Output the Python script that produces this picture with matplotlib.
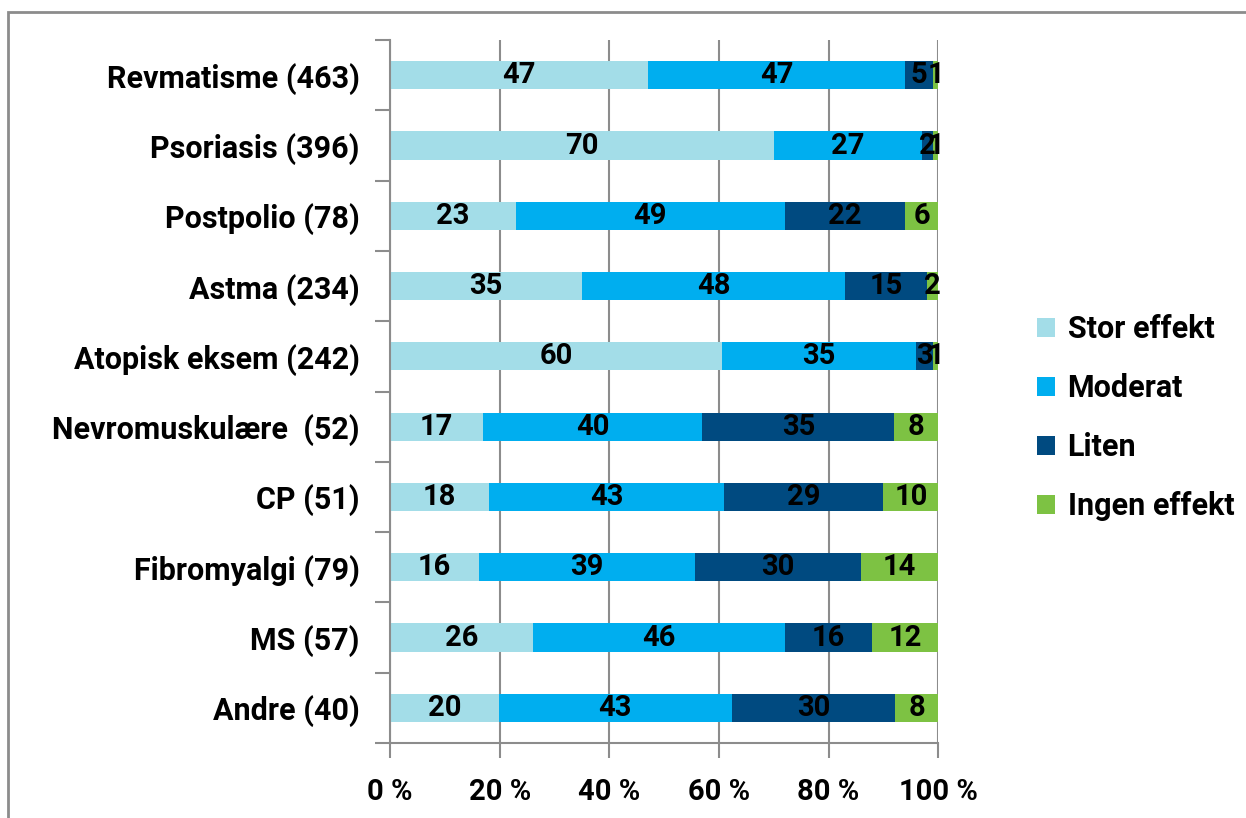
import numpy as np
import matplotlib
matplotlib.use("Agg")
import matplotlib.pyplot as plt
from matplotlib.patches import Rectangle

plt.rcParams['font.family'] = ['Roboto', 'DejaVu Sans']
plt.rcParams['font.weight'] = 'bold'

categories = ["Revmatisme (463)", "Psoriasis (396)", "Postpolio (78)", "Astma (234)",
              "Atopisk eksem (242)", "Nevromuskulære  (52)", "CP (51)", "Fibromyalgi (79)",
              "MS (57)", "Andre (40)"]
series = ["Stor effekt", "Moderat", "Liten", "Ingen effekt"]
stor = [47, 70, 23, 35, 60, 17, 18, 16, 26, 20]
moderat = [47, 27, 49, 48, 35, 40, 43, 39, 46, 43]
liten = [5, 2, 22, 15, 3, 35, 29, 30, 16, 30]
ingen = [1, 1, 6, 2, 1, 8, 10, 14, 12, 8]
colors = ["#A3DDE8", "#00AEEF", "#004A80", "#7DC243"]
xticks = [0, 20, 40, 60, 80, 100]

data = np.array([stor, moderat, liten, ingen], dtype=float)
shares = data / data.sum(axis=0) * 100

fig = plt.figure(figsize=(12.46, 8.18), dpi=100)
ax = fig.add_axes([0.313, 0.0917, 0.44, 0.8593])

# outer frame
fig.patches.append(Rectangle((8 / 1246, -0.1), 1.2, 1.1 - 12 / 818, transform=fig.transFigure,
                             fill=False, edgecolor="#8C8C8C", linewidth=2, zorder=0))

y = np.arange(len(categories))
left = np.zeros(len(categories))
for i, name in enumerate(series):
    ax.barh(y, shares[i], left=left, height=0.4, color=colors[i], label=name, zorder=2)
    for j in range(len(categories)):
        ax.text(left[j] + shares[i][j] / 2, y[j], "%d" % data[i][j], ha="center", va="center",
                fontsize=21, fontweight="bold", color="black", zorder=3)
    left += shares[i]

ax.set_ylim(len(categories) - 0.5, -0.5)
ax.set_xlim(0, 100)
ax.set_yticks(y)
ax.set_yticklabels(categories, fontsize=22, fontweight="bold")
ax.set_yticks(np.arange(-0.5, len(categories)), minor=True)
ax.tick_params(axis="y", which="major", length=0, pad=22)
ax.tick_params(axis="y", which="minor", length=11, width=1.5, color="#8C8C8C")
ax.set_xticks(xticks)
ax.set_xticklabels(["%d %%" % v for v in xticks], fontsize=21, fontweight="bold")
ax.tick_params(axis="x", length=11, width=1.5, color="#8C8C8C", pad=14)
ax.grid(axis="x", color="#8C8C8C", linewidth=1.5, zorder=1)
ax.set_axisbelow(True)
for s in ["top", "right"]:
    ax.spines[s].set_visible(False)
for s in ["left", "bottom"]:
    ax.spines[s].set_color("#8C8C8C")
    ax.spines[s].set_linewidth(1.5)

leg = ax.legend(loc="center left", bbox_to_anchor=(1.13, 0.463), frameon=False, fontsize=22,
                handlelength=0.6, handleheight=0.6, handletextpad=0.4, labelspacing=0.95)
for t in leg.get_texts():
    t.set_fontweight("bold")

fig.savefig("out.png", dpi=100)
